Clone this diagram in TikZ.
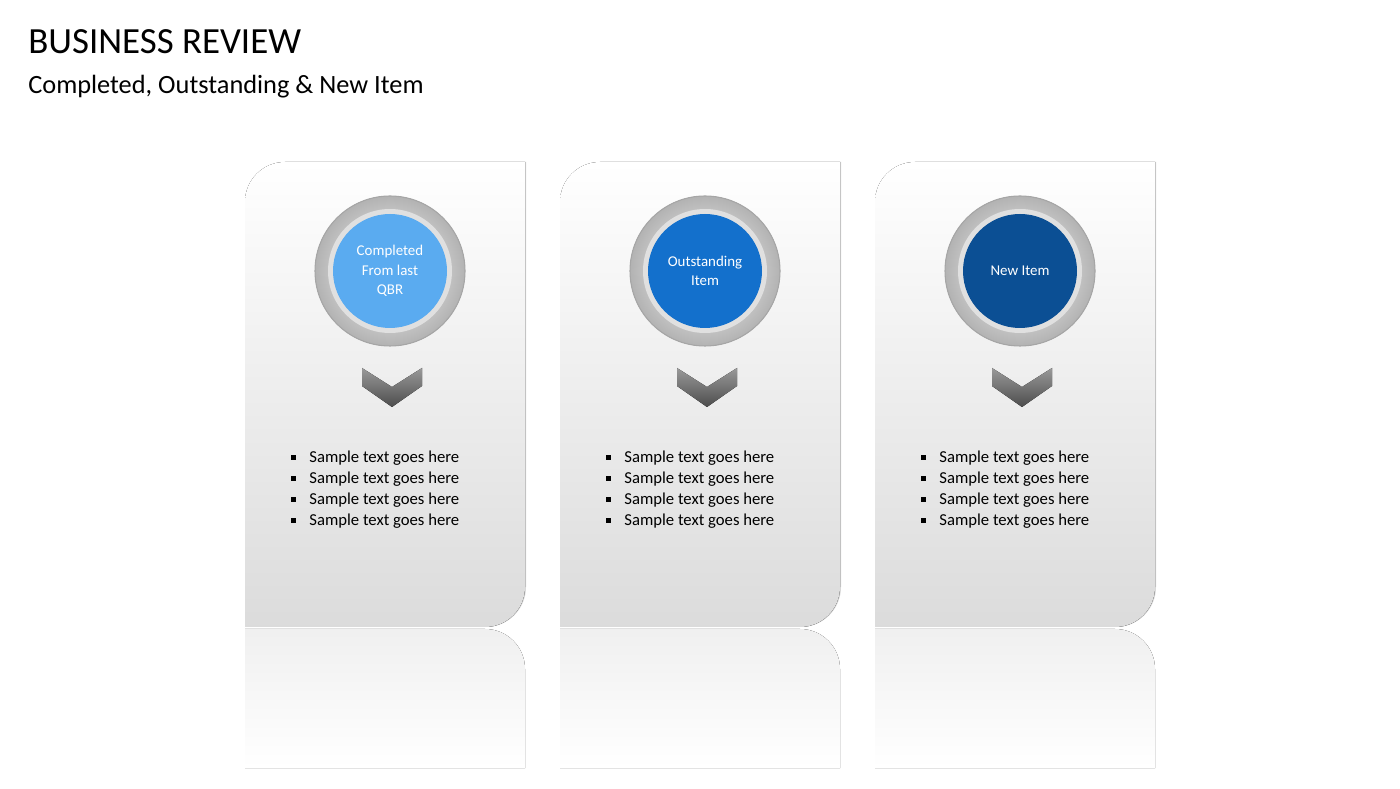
\documentclass[tikz,border=0pt]{standalone}
\usepackage{fontspec}
\setmainfont{Carlito}
\usetikzlibrary{positioning}

\definecolor{c1}{HTML}{5AABF0}
\definecolor{c2}{HTML}{1370CC}
\definecolor{c3}{HTML}{0B4F94}

\tikzset{
  cardfill/.style={top color=white, bottom color=black!14},
  cardshadow/.style={fill=black!30, opacity=0.5},
  mirror/.style={top color=black!6, bottom color=white},
  ring/.style={draw=black!35, line width=0.6pt, inner color=white, outer color=black!30},
  chev/.style={top color=black!40, bottom color=black!70},
  itemtext/.style={anchor=west, font=\fontsize{9.5}{11}\selectfont, inner sep=0pt},
  dottext/.style={align=center, text=white, font=\fontsize{8.5}{11}\selectfont}
}

\newcommand{\cardpath}[1]{(#1,161) -- (#1,586) arc(180:90:40) -- (#1+280,626) -- (#1+280,201) arc(0:-90:40) -- cycle}

\begin{document}
\begin{tikzpicture}[x=0.02cm, y=0.02cm]
\useasboundingbox (0,0) rectangle (1400,788);

% Title
\node [anchor=west, inner sep=0pt, font=\fontsize{21}{24}\selectfont] (title) at (28,746) {BUSINESS REVIEW};
\node [anchor=west, inner sep=0pt, font=\fontsize{15}{18}\selectfont] (subtitle) at (28,701) {Completed, Outstanding \& New Item};

% The three cards
\foreach \x/\name/\col/\txt in {245/done/c1/{Completed\\From last\\QBR}, 560/open/c2/{Outstanding\\Item}, 875/new/c3/{New Item}} {
  % reflection
  \fill [mirror] (\x,159) -- (\x,20) -- (\x+280,20) -- (\x+280,119) arc(0:90:40) -- cycle;
  % shadow and card
  \fill [cardshadow] \cardpath{\x+1};
  \fill [cardfill] \cardpath{\x};
  % dot
  \fill [ring] (\x+145,517) circle (75);
  \fill [black!12] (\x+145,517) circle (62);
  \node [circle, minimum size=114*0.02cm, inner sep=0pt, fill=\col, dottext] (\name) at (\x+145,517) {\txt};
  % chevron
  \fill [chev] (\x+117,420) -- (\x+147,401) -- (\x+177,420) -- (\x+177,402) -- (\x+147,381) -- (\x+117,402) -- cycle;
  % items
  \foreach \y in {330,309,288,267} {
    \fill (\x+46,\y-2.5) rectangle (\x+51,\y+2.5);
    \node [itemtext] at (\x+64,\y) {Sample text goes here};
  }
}
\end{tikzpicture}
\end{document}
